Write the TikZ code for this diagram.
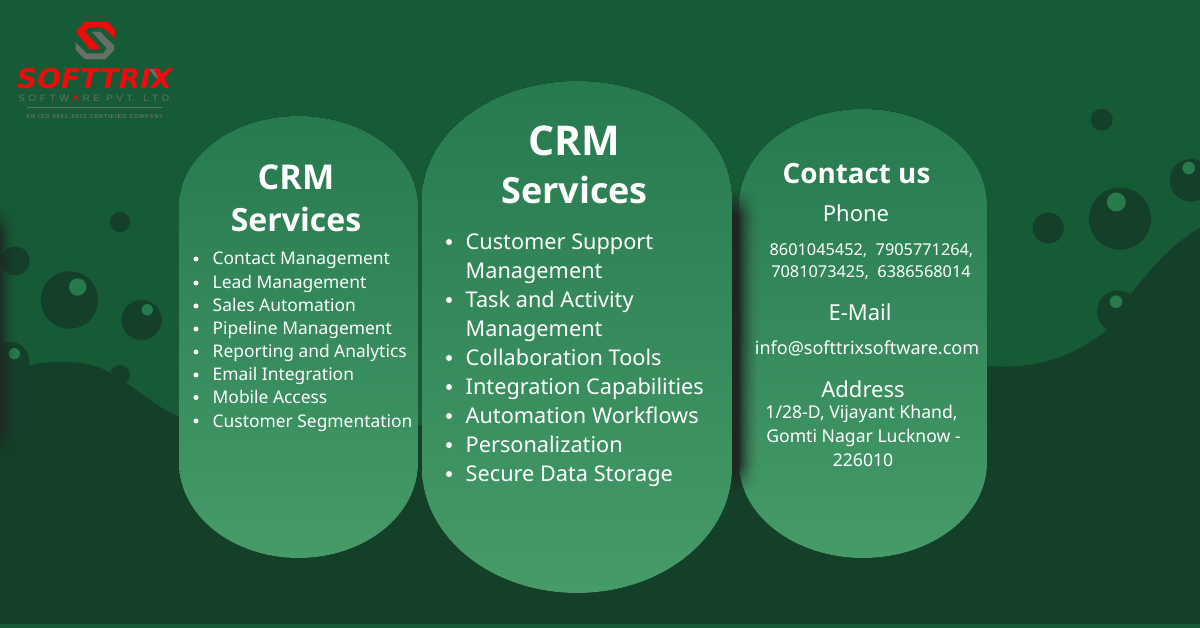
\documentclass[tikz,border=0pt]{standalone}
\usepackage{fontspec}
\setmainfont{Noto Sans}
\newfontfamily\logofont{Liberation Sans}
\newfontfamily\logoheavy{DejaVu Sans}
\newfontfamily\headfont{Open Sans}
\definecolor{bgmain}{HTML}{165A36}
\definecolor{bgdark}{HTML}{143F28}
\definecolor{bubblehi}{HTML}{267A4B}
\definecolor{paneltop}{HTML}{267A4E}
\definecolor{panelbot}{HTML}{469B69}
\definecolor{shadowc}{HTML}{1E2723}
\definecolor{logored}{HTML}{F00A0A}
\definecolor{logogray}{HTML}{666F68}
\tikzset{
  x=1pt,y=-1pt,
  bubble/.style={fill=bgdark,draw=none},
  glint/.style={fill=bubblehi,draw=none},
  panelshape/.style={top color=paneltop,bottom color=panelbot,draw=none},
  head/.style={text=white,font=\fontsize{32}{32}\selectfont\headfont\bfseries,anchor=base,inner sep=0pt},
  headbig/.style={text=white,font=\fontsize{36}{36}\selectfont\headfont\bfseries,anchor=base,inner sep=0pt},
  headc/.style={text=white,font=\fontsize{27.8}{27.8}\selectfont\headfont\bfseries,anchor=base,inner sep=0pt},
  itemsm/.style={text=white,font=\fontsize{17.4}{17.4}\selectfont,anchor=base west,inner sep=0pt},
  itembig/.style={text=white,font=\fontsize{21.7}{21.7}\selectfont,anchor=base west,inner sep=0pt},
  labelc/.style={text=white,font=\fontsize{22}{22}\selectfont,anchor=base,inner sep=0pt},
  detail/.style={text=white,font=\fontsize{17.6}{17.6}\selectfont,anchor=base,inner sep=0pt},
  dot/.style={fill=white,circle,inner sep=0pt,minimum size=#1},
}
\newcommand{\panelpath}[6]{
  (#1,{#3+#5}) .. controls (#1,{#3+#5*0.4477}) and ({#1+(#2-#1)*0.5*0.4477},#3) .. ({(#1+#2)/2},#3)
  .. controls ({#2-(#2-#1)*0.5*0.4477},#3) and (#2,{#3+#5*0.4477}) .. (#2,{#3+#5})
  -- (#2,{#4-#6}) .. controls (#2,{#4-#6*0.4477}) and ({#2-(#2-#1)*0.5*0.4477},#4) .. ({(#1+#2)/2},#4)
  .. controls ({#1+(#2-#1)*0.5*0.4477},#4) and (#1,{#4-#6*0.4477}) .. (#1,{#4-#6}) -- cycle}
% one column of soft shadow: x, opacity, top of the fade, bottom of the fade
\newcommand{\softcolumn}[4]{
  \fill[shadowc,opacity=#2] (#1,{#3+26}) rectangle ({#1+1},{#4-26});
  \foreach \j in {1,...,13}{
    \pgfmathsetmacro{\opj}{#2*\j/14}
    \fill[shadowc,opacity=\opj] (#1,{#3+2*(\j-1)}) rectangle ({#1+1},{#3+2*\j});
    \fill[shadowc,opacity=\opj] (#1,{#4-2*\j}) rectangle ({#1+1},{#4-2*(\j-1)});
  }
}
\begin{document}
\begin{tikzpicture}
\useasboundingbox (0,0) rectangle (1200,628);
\fill[bgmain] (0,0) rectangle (1200,628);
% bubbles behind the hills
\fill[bubble] (120,222) circle[radius=10pt];
\fill[bubble] (15,261) circle[radius=14.5pt];
\fill[bubble] (69.5,300) circle[radius=28.7pt];
\fill[glint] (77.7,287) circle[radius=8.7pt];
\fill[bubble] (141.7,320) circle[radius=20pt];
\fill[glint] (147.3,309.7) circle[radius=5.7pt];
\fill[bubble] (9.5,361.7) circle[radius=20pt];
\fill[bubble] (120,375) circle[radius=10pt];
\fill[bubble] (1101.7,119.7) circle[radius=11pt];
\fill[bubble] (1048.3,228) circle[radius=15.5pt];
\fill[bubble] (1120,218.7) circle[radius=31pt];
\fill[glint] (1116.3,202) circle[radius=9.5pt];
\fill[bubble] (1191,180.3) circle[radius=21.3pt];
\fill[glint] (1188.7,168) circle[radius=6.3pt];
\fill[bubble] (1118,311.3) circle[radius=21pt];
% hills
\fill[bgdark] (0,380) .. controls (12,372) and (25,363) .. (55,362)
  .. controls (90,361) and (105,368) .. (125,382)
  .. controls (145,396) and (160,409) .. (180,417)
  .. controls (260,440) and (340,440) .. (420,425)
  .. controls (600,400) and (800,366) .. (987,366)
  .. controls (1040,370) and (1075,355) .. (1107,330)
  .. controls (1125,300) and (1160,250) .. (1200,228)
  -- (1200,624) -- (0,624) -- cycle;
\fill[glint] (14.3,353.7) circle[radius=5.7pt];
\fill[glint] (1116,301.7) circle[radius=6.3pt];
% edge shadow, left of the picture
\foreach \i in {0,...,17}{
  \pgfmathsetmacro{\op}{0.85*(1-\i/18)*(1-\i/18)}
  \softcolumn{\i}{\op}{208}{458}
}
% panels
\fill[panelshape] \panelpath{179}{418}{116}{558}{90}{95};
\fill[panelshape] \panelpath{422}{732}{81}{593}{118}{125};
\fill[panelshape] \panelpath{739}{987}{109}{558}{96}{95};
% shadow beside the right panel
\foreach \i in {732,...,738}{
  \softcolumn{\i}{1}{190}{492}
}
\foreach \i in {0,...,21}{
  \pgfmathsetmacro{\op}{0.9*(1-\i/22)*(1-\i/22)}
  \pgfmathtruncatemacro{\xc}{739+\i}
  \softcolumn{\xc}{\op}{190}{492}
}
% logo
\fill[logored] (76,31.7) -- (85,21.7) -- (107.7,21.7) -- (115,30) -- (115,38.3) -- (107.7,31.7) -- (102.3,27.7) -- (88.3,27.7) -- (85,31.7) -- (100,48.3) -- (98.3,49.3) -- (90,49.3) -- cycle;
\fill[logogray] (91.7,31.7) -- (100,31.7) -- (114.3,45.7) -- (114.3,50) -- (105,59.3) -- (85,59.3) -- (75.7,50) -- (75.7,42.3) -- (86.7,53.3) -- (103.3,53.3) -- (106.7,48.3) -- cycle;
\fill[logogray] (149,69) -- (155,69) -- (160,76) -- (157,79) -- cycle;
\node[anchor=base west,inner sep=0pt,text=logored] (logoname) at (17,88.5) {\resizebox{155pt}{20pt}{\logoheavy\bfseries\itshape SOFTTRIX}};
\node[anchor=base west,inner sep=0pt,text=logogray] (logosub) at (18,102) {\resizebox{154pt}{6.5pt}{\logofont S\,\,O\,\,F\,\,T\,\,W\,\,\textcolor{logored}{A}\,\,R\,\,E\ \ P\,\,V\,\,T.\ \ \ L\,\,T\,\,D.}};
\draw[logogray,line width=.6pt] (27,107.7) -- (162,107.7);
\node[anchor=base west,inner sep=0pt,text=logogray] (logoiso) at (26,119) {\resizebox{137pt}{4pt}{\logofont\bfseries A\,N\ \ I\,S\,O\ \ 9\,0\,0\,1\,:\,2\,0\,1\,5\ \ C\,E\,R\,T\,I\,F\,I\,E\,D\ \ C\,O\,M\,P\,A\,N\,Y}};
% left panel
\node[head,font=\fontsize{34.2}{34.2}\selectfont\headfont\bfseries] (h1a) at (296,190) {CRM};
\node[head] (h1b) at (296,232) {Services};
\foreach \n/\yy/\t in {a/265/Contact Management,b/289/Lead Management,c/312/Sales Automation,d/335/Pipeline Management,e/358/Reporting and Analytics,f/381/Email Integration,g/403.5/Mobile Access,h/427/Customer Segmentation}{
  \node[dot=5pt] (ld\n) at (196,\yy-6) {};
  \node[itemsm] (lt\n) at (212.5,\yy) {\t};
}
% middle panel
\node[headbig,font=\fontsize{41}{41}\selectfont\headfont\bfseries] (h2a) at (574.5,156) {CRM};
\node[headbig] (h2b) at (574.5,204) {Services};
\foreach \n/\yy/\t in {a/249.5/Customer Support,c/307.5/Task and Activity,e/365.5/Collaboration Tools,f/394.5/Integration Capabilities,g/423.5/Automation Workflows,h/452.5/Personalization,i/481.5/Secure Data Storage}{
  \node[dot=6pt] (md\n) at (449,\yy-7.5) {};
  \node[itembig] (mt\n) at (465.5,\yy) {\t};
}
\node[itembig] (mtb) at (465.5,278.5) {Management};
\node[itembig] (mtd) at (465.5,336.5) {Management};
% right panel
\node[headc] (h3) at (856.5,183.5) {Contact us};
\node[labelc] (phone) at (856,222) {Phone};
\node[detail,font=\fontsize{16.3}{16.3}\selectfont] (num1) at (871.5,256) {8601045452,\ \ 7905771264,};
\node[detail,font=\fontsize{16.3}{16.3}\selectfont] (num2) at (871,277.5) {7081073425,\ \ 6386568014};
\node[labelc] (email) at (860,320.5) {E-Mail};
\node[detail,font=\fontsize{18}{18}\selectfont] (mail) at (867,354.5) {info@softtrixsoftware.com};
\node[labelc] (addr) at (863,397) {Address};
\node[detail] (ad1) at (861.5,418) {1/28-D, Vijayant Khand,};
\node[detail] (ad2) at (863.5,442) {Gomti Nagar Lucknow -};
\node[detail] (ad3) at (863,466) {226010};
\end{tikzpicture}
\end{document}
